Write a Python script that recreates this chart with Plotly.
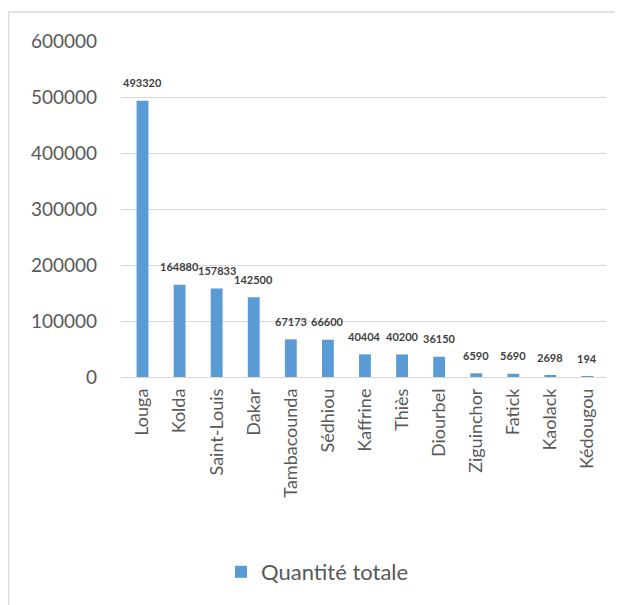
import plotly.graph_objects as go

categories = ["Louga", "Kolda", "Saint-Louis", "Dakar", "Tambacounda", "Sédhiou",
              "Kaffrine", "Thiès", "Diourbel", "Ziguinchor", "Fatick", "Kaolack", "Kédougou"]
values = [493320, 164880, 157833, 142500, 67173, 66600, 40404, 40200, 36150, 6590, 5690, 2698, 194]
series_name = "Quantité totale"
y_ticks = [0, 100000, 200000, 300000, 400000, 500000, 600000]

# page has an 8px body margin
W, H = 615, 597
L, R, T, B = 113, 17, 33, 228
pw, ph = W - L - R, H - T - B

FONT = "Lato, Carlito, Calibri, sans-serif"
GRAY = "#595959"

fig = go.Figure()
fig.add_trace(go.Bar(
    x=categories, y=values, name=series_name,
    marker=dict(color="#5B9BD5", line=dict(width=0)),
    width=0.32, showlegend=True,
))

for c, v in zip(categories, values):
    fig.add_annotation(x=c, y=v, text=f"<b>{v}</b>", showarrow=False,
                       yshift=18, font=dict(family=FONT, size=11, color="#404040"))

fig.update_layout(
    width=W, height=H,
    margin=dict(l=L, r=R, t=T, b=B, autoexpand=False),
    paper_bgcolor="white", plot_bgcolor="white",
    font=dict(family=FONT, color=GRAY),
    bargap=0.68,
    legend=dict(orientation="h", x=(213 - L) / pw, xanchor="left",
                y=(369 - 564) / ph, yanchor="middle",
                font=dict(family=FONT, size=22, color=GRAY),
                bgcolor="rgba(0,0,0,0)"),
    xaxis=dict(type="category", tickangle=-90, tickfont=dict(family=FONT, size=18, color=GRAY),
               showline=False, ticks="", showgrid=False, ticklabelstandoff=7),
    yaxis=dict(range=[0, 600000], tickvals=y_ticks, ticktext=[str(t) for t in y_ticks],
               tickfont=dict(family=FONT, size=19, color=GRAY),
               showgrid=True, gridcolor="#D9D9D9", gridwidth=1,
               zeroline=True, zerolinecolor="#D9D9D9", zerolinewidth=1,
               showline=False, ticks="", ticklabelstandoff=23),
)

# outer chart border
fig.add_shape(type="rect", xref="paper", yref="paper",
              x0=(0.5 - L) / pw, x1=(612 - L) / pw,
              y0=(369 - 600) / ph, y1=(369 - 4) / ph,
              line=dict(color="#D9D9D9", width=1.5), fillcolor="rgba(0,0,0,0)", layer="below")

fig.write_html("out.html")
